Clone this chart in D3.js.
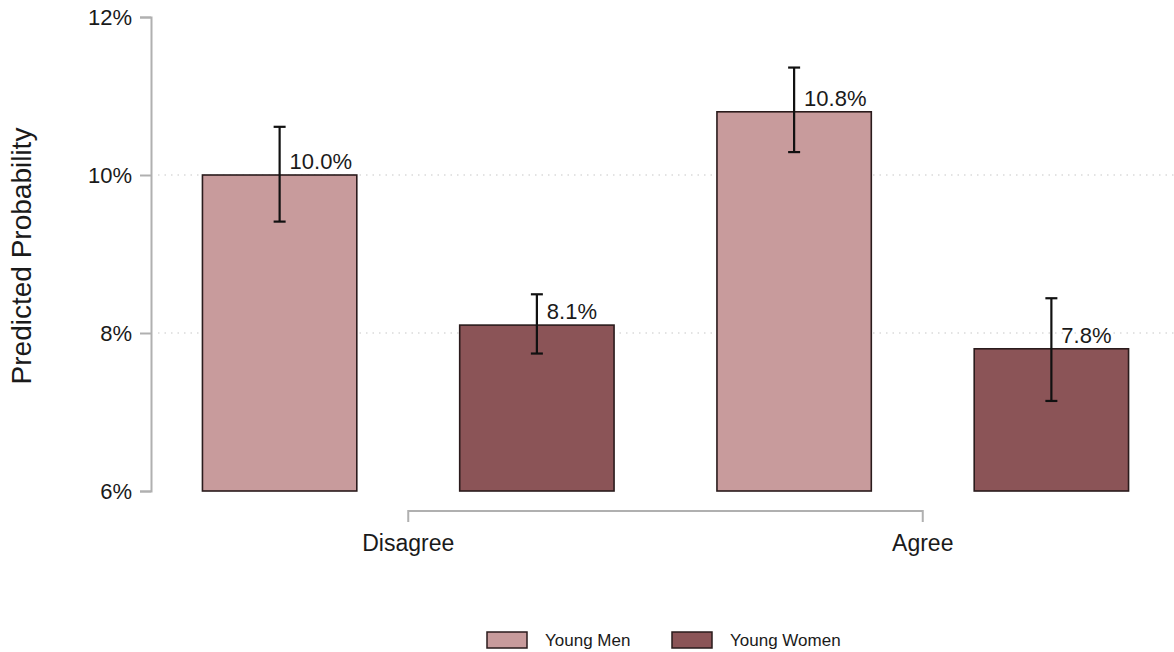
<!DOCTYPE html>
<html>
<head>
<meta charset="utf-8">
<script src="https://cdn.jsdelivr.net/npm/d3@7/dist/d3.min.js"></script>
<style>
  html, body { margin: 0; padding: 0; background: #fff; }
  svg { display: block; font-family: "Liberation Sans", Arial, sans-serif; }
</style>
</head>
<body>
<svg id="chart" width="1174" height="652"></svg>
<script>
// Predicted probability by attitude and group, with 95% intervals
const categories = ["Disagree", "Agree"];
const groups = ["Young Men", "Young Women"];
const values = [[10.0, 8.1], [10.8, 7.8]];
const lower  = [[9.41, 7.74], [10.29, 7.14]];
const upper  = [[10.61, 8.49], [11.36, 8.44]];
const yTicks = [6, 8, 10, 12];
const colors = ["#c89b9c", "#8b5457"];

const svg = d3.select("#chart");

const y = d3.scaleLinear().domain([6, 12]).range([491, 17]);
const x0 = d3.scaleBand().domain(categories).range([151, 1180]).paddingInner(0).paddingOuter(0);
const x1 = d3.scaleBand().domain(groups).range([0, x0.bandwidth()]).paddingInner(0.4).paddingOuter(0.2);

// dotted gridlines
svg.append("g").selectAll("line")
  .data([8, 10])
  .join("line")
  .attr("x1", 158).attr("x2", 1174)
  .attr("y1", d => y(d)).attr("y2", d => y(d))
  .attr("stroke", "#c8c8c8").attr("stroke-width", 1.2)
  .attr("stroke-dasharray", "1.5,5");

// y axis
const yAxis = d3.axisLeft(y).tickValues(yTicks).tickFormat(d => d + "%").tickSizeOuter(0).tickSize(11).tickPadding(8);
const gy = svg.append("g").attr("transform", "translate(151,0)").call(yAxis);
gy.select(".domain").attr("stroke", "#b0b0b0").attr("stroke-width", 2);
gy.selectAll(".tick line").attr("stroke", "#b0b0b0").attr("stroke-width", 2);
gy.selectAll(".tick text").attr("font-size", 22).attr("fill", "#1a1a1a").attr("font-family", "Liberation Sans, Arial, sans-serif");

svg.append("text")
  .attr("transform", "translate(31,256) rotate(-90)")
  .attr("text-anchor", "middle")
  .attr("font-size", 28)
  .attr("fill", "#1a1a1a")
  .text("Predicted Probability");

// bars
const data = [];
categories.forEach((c, i) => groups.forEach((g, j) => data.push({
  cat: c, grp: g, j, v: values[i][j], lo: lower[i][j], hi: upper[i][j]
})));

const gBars = svg.append("g");
const cell = gBars.selectAll("g").data(data).join("g")
  .attr("transform", d => `translate(${x0(d.cat) + x1(d.grp)},0)`);

cell.append("rect")
  .attr("x", 0)
  .attr("width", x1.bandwidth())
  .attr("y", d => y(d.v))
  .attr("height", d => y(6) - y(d.v))
  .attr("fill", d => colors[d.j])
  .attr("stroke", "#2a1b1c")
  .attr("stroke-width", 1.6);

// error bars
const cx = x1.bandwidth() / 2;
cell.append("line")
  .attr("x1", cx).attr("x2", cx)
  .attr("y1", d => y(d.hi)).attr("y2", d => y(d.lo))
  .attr("stroke", "#111").attr("stroke-width", 2.2);
cell.append("line")
  .attr("x1", cx - 6).attr("x2", cx + 6)
  .attr("y1", d => y(d.hi)).attr("y2", d => y(d.hi))
  .attr("stroke", "#111").attr("stroke-width", 2.2);
cell.append("line")
  .attr("x1", cx - 6).attr("x2", cx + 6)
  .attr("y1", d => y(d.lo)).attr("y2", d => y(d.lo))
  .attr("stroke", "#111").attr("stroke-width", 2.2);

// value labels
cell.append("text")
  .attr("x", cx + 10)
  .attr("y", d => y(d.v) - 6)
  .attr("font-size", 22)
  .attr("fill", "#1a1a1a")
  .text(d => d.v.toFixed(1) + "%");

// x axis bracket between category centres
const cxs = categories.map(c => x0(c) + x0.bandwidth() / 2);
svg.append("path")
  .attr("d", `M${cxs[0]},522 V511 H${cxs[1]} V522`)
  .attr("fill", "none")
  .attr("stroke", "#b0b0b0")
  .attr("stroke-width", 2);
svg.append("g").selectAll("text").data(categories).join("text")
  .attr("x", d => x0(d) + x0.bandwidth() / 2)
  .attr("y", 551)
  .attr("text-anchor", "middle")
  .attr("font-size", 23)
  .attr("fill", "#1a1a1a")
  .text(d => d);

// legend
const legendX = [487, 672];
const leg = svg.append("g").selectAll("g").data(groups).join("g")
  .attr("transform", (d, i) => `translate(${legendX[i]},632)`);
leg.append("rect")
  .attr("width", 40).attr("height", 16)
  .attr("fill", (d, i) => colors[i])
  .attr("stroke", "#2a1b1c").attr("stroke-width", 1.5);
leg.append("text")
  .attr("x", 58).attr("y", 14)
  .attr("font-size", 17)
  .attr("fill", "#1a1a1a")
  .text(d => d);
</script>
</body>
</html>
